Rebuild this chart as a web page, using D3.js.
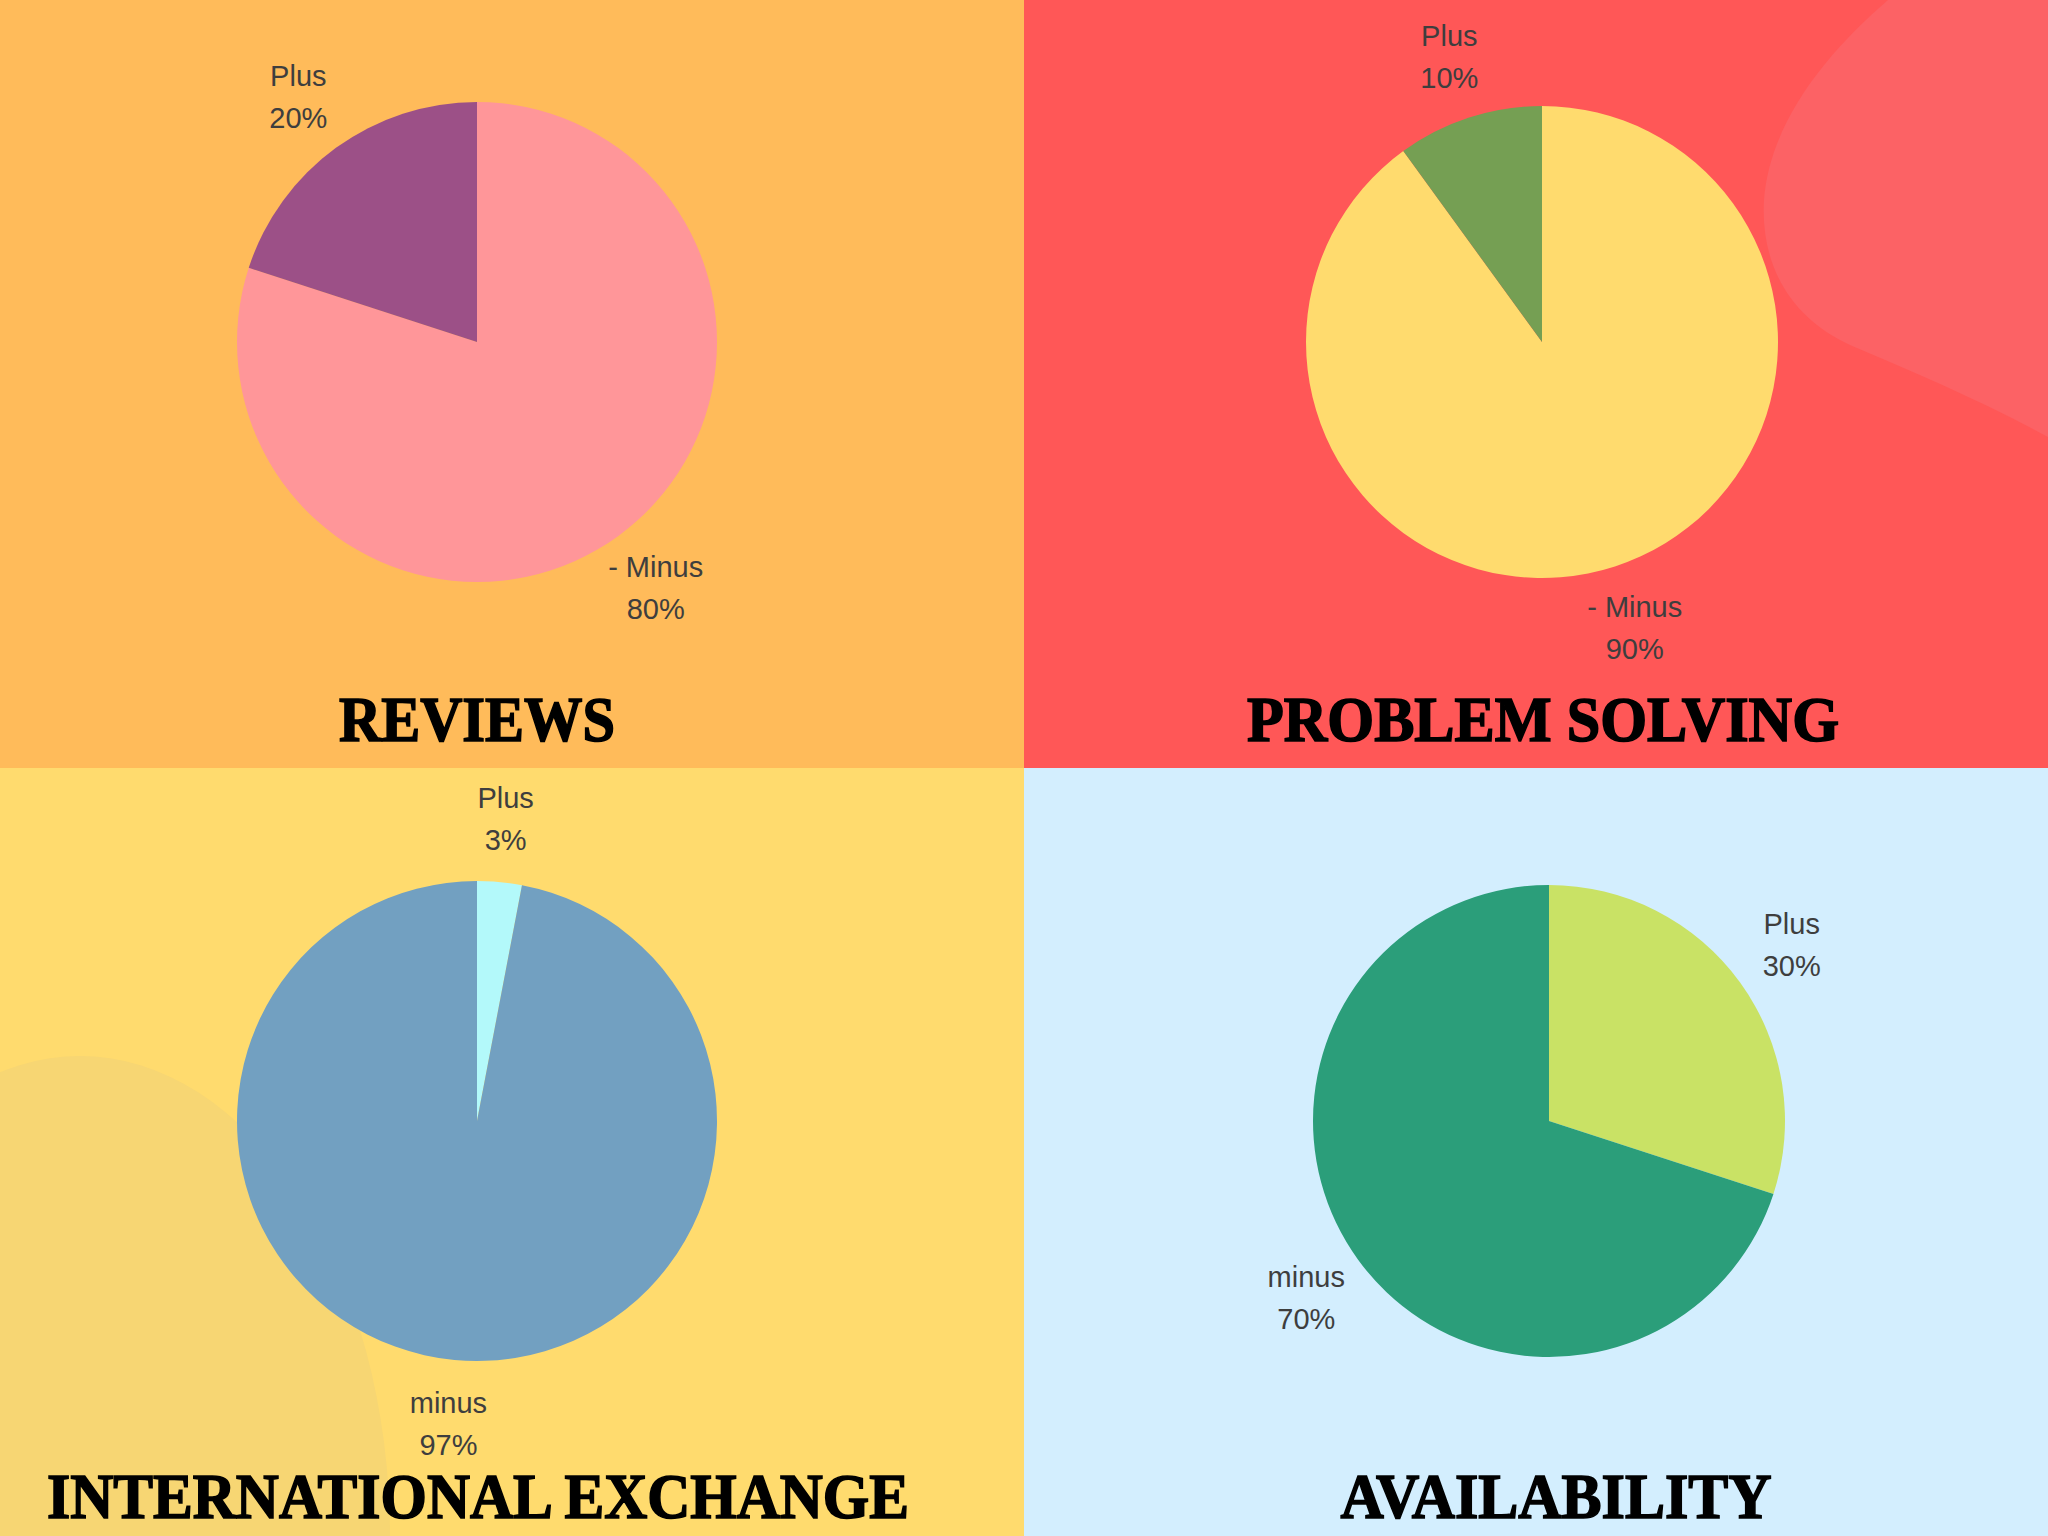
<!DOCTYPE html>
<html>
<head>
<meta charset="utf-8">
<script src="https://cdn.jsdelivr.net/npm/d3@7"></script>
<style>
  html, body { margin: 0; padding: 0; background: #fff; }
  svg { display: block; }
</style>
</head>
<body>
<script>
// ---------------- DATA ----------------
const titles = ["REVIEWS", "PROBLEM SOLVING", "INTERNATIONAL EXCHANGE", "AVAILABILITY"];
const sliceNames = [
  ["- Minus", "Plus"],
  ["- Minus", "Plus"],
  ["Plus", "minus"],
  ["Plus", "minus"]
];
const sliceValues = [
  [80, 20],
  [90, 10],
  [3, 97],
  [30, 70]
];

// ---------------- STYLE / LAYOUT ----------------
const sliceColors = [
  ["#FF9699", "#9C5087"],
  ["#FFDB6E", "#759F53"],
  ["#B3F9FA", "#72A0C1"],
  ["#C9E265", "#2B9E7A"]
];
const bgColors = ["#FFBB5A", "#FF5757", "#FFDB6E", "#D3EEFE"];
const W = 2048, H = 1536, QW = 1024, QH = 768;
const centers = [[477, 342], [1542, 342], [477, 1121], [1549, 1121]];
const radii = [240, 236, 240, 236];
const titleX = [477, 1543, 478, 1556];
const titleY = [741, 741, 1518, 1518];
const titleW = [276, 592, 862, 431];

const svg = d3.select("body").append("svg")
  .attr("width", W).attr("height", H)
  .attr("viewBox", `0 0 ${W} ${H}`);

// backgrounds
const quads = [[0, 0], [QW, 0], [0, QH], [QW, QH]];
svg.selectAll("rect.bg").data(quads).join("rect")
  .attr("class", "bg")
  .attr("x", d => d[0]).attr("y", d => d[1])
  .attr("width", QW).attr("height", QH)
  .attr("fill", (d, i) => bgColors[i]);

// decorative blobs
svg.append("path")
  .attr("d", "M1888,0 C1830,50 1770,120 1764,200 C1760,270 1795,320 1850,345 C1920,375 1980,400 2048,437 L2048,0 Z")
  .attr("fill", "#FC6265");

const qClip = svg.append("clipPath").attr("id", "q3clip");
qClip.append("rect").attr("x", 0).attr("y", QH).attr("width", QW).attr("height", QH);
svg.append("ellipse")
  .attr("cx", 80).attr("cy", 1536).attr("rx", 310).attr("ry", 480)
  .attr("fill", "#F7D673")
  .attr("clip-path", "url(#q3clip)");

const pie = d3.pie().sort(null).value(d => d);

titles.forEach((t, i) => {
  const [cx, cy] = centers[i];
  const r = radii[i];
  const g = svg.append("g").attr("transform", `translate(${cx},${cy})`);
  const arcs = pie(sliceValues[i]);
  const arc = d3.arc().innerRadius(0).outerRadius(r);
  const labelArc = d3.arc().innerRadius(r + 64).outerRadius(r + 64);

  g.selectAll("path").data(arcs).join("path")
    .attr("d", arc)
    .attr("fill", (d, j) => sliceColors[i][j]);

  const lab = g.selectAll("g.lab").data(arcs).join("g")
    .attr("class", "lab")
    .attr("transform", d => `translate(${labelArc.centroid(d)})`);
  lab.append("text")
    .attr("text-anchor", "middle")
    .attr("y", -10.5)
    .attr("font-family", "'Liberation Sans', Arial, sans-serif")
    .attr("font-size", 29)
    .attr("fill", "#3E3E3E")
    .text((d, j) => sliceNames[i][j]);
  lab.append("text")
    .attr("text-anchor", "middle")
    .attr("y", 31.5)
    .attr("font-family", "'Liberation Sans', Arial, sans-serif")
    .attr("font-size", 29)
    .attr("fill", "#3E3E3E")
    .text(d => d.data + "%");

  svg.append("text")
    .attr("x", titleX[i]).attr("y", titleY[i])
    .attr("text-anchor", "middle")
    .attr("font-family", "'Liberation Serif', 'DejaVu Serif', serif")
    .attr("font-weight", "bold")
    .attr("font-size", 63)
    .attr("textLength", titleW[i])
    .attr("lengthAdjust", "spacingAndGlyphs")
    .attr("fill", "#000")
    .attr("stroke", "#000")
    .attr("stroke-width", 1.6)
    .text(t);
});
</script>
</body>
</html>
